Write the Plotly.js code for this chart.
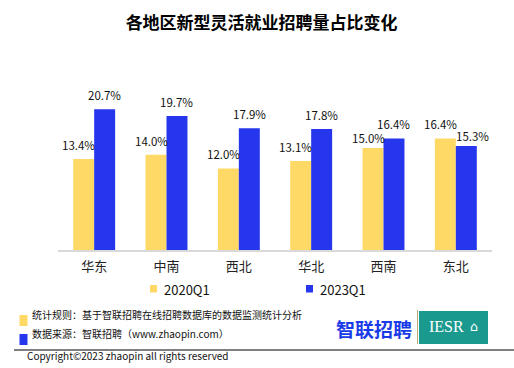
<!DOCTYPE html>
<html>
<head>
<meta charset="utf-8">
<script src="https://cdn.plot.ly/plotly-3.0.1.min.js"></script>
<style>html,body{margin:0;padding:0;background:#fff;}#chart{width:514px;height:368px;}</style>
</head>
<body>
<div id="chart"></div>
<script>
const regions = ['华东', '中南', '西北', '华北', '西南', '东北'];
const series2020 = [13.4, 14.0, 12.0, 13.1, 15.0, 16.4];
const series2023 = [20.7, 19.7, 17.9, 17.8, 16.4, 15.3];
const seriesNames = ['2020Q1', '2023Q1'];
const colors = ['#FFD966', '#2536EC'];

const W = 514, H = 368;
const M = {l: 58, r: 22, t: 70, b: 118};
const pw = W - M.l - M.r, ph = H - M.t - M.b;
const px = x => (x - M.l) / pw;
const py = y => (H - M.b - y) / ph;
const FONT = '"Noto Sans CJK SC", "Noto Sans", sans-serif';

const traces = [series2020, series2023].map((vals, k) => ({
  type: 'bar', name: seriesNames[k], x: regions, y: vals,
  marker: {color: colors[k]}, hoverinfo: 'skip', showlegend: false
}));

const annotations = [];
const half = 0.145;
const allSeries = [series2020, series2023];
allSeries.forEach((vals, k) => {
  vals.forEach((v, i) => {
    const other = allSeries[1 - k][i];
    const crowded = Math.abs(v - other) < 2 && v < other;
    annotations.push({
      x: i + (k === 0 ? -half : half), y: v, xref: 'x', yref: 'y',
      text: v.toFixed(1) + '%', showarrow: false, yanchor: 'middle',
      yshift: crowded ? 10 : 14,
      xshift: k === 0 ? -5 : (crowded ? 6 : 0),
      font: {family: FONT, size: 11.5, color: '#111'}
    });
  });
});

// custom legend
const legendX = [150, 306];
const shapes = [];
seriesNames.forEach((n, k) => {
  shapes.push({type: 'rect', xref: 'paper', yref: 'paper',
    x0: px(legendX[k]), x1: px(legendX[k] + 7), y0: py(292.5), y1: py(285),
    fillcolor: colors[k], line: {width: 0}});
  annotations.push({xref: 'paper', yref: 'paper', x: px(legendX[k] + 12), y: py(289),
    xanchor: 'left', yanchor: 'middle', showarrow: false, text: n,
    font: {family: FONT, size: 13, color: '#111'}});
});

// footer
const notes = ['统计规则：基于智联招聘在线招聘数据库的数据监测统计分析', '数据来源：智联招聘（www.zhaopin.com）'];
const noteY = [314, 333];
notes.forEach((t, k) => {
  shapes.push({type: 'rect', xref: 'paper', yref: 'paper',
    x0: px(19.5), x1: px(27.5), y0: py(noteY[k] + 12), y1: py(noteY[k] + 1),
    fillcolor: colors[k], line: {width: 0}});
  annotations.push({xref: 'paper', yref: 'paper', x: px(30), y: py(noteY[k]),
    xanchor: 'left', yanchor: 'middle', showarrow: false, text: t,
    font: {family: FONT, size: 10, color: '#111'}});
});
shapes.push({type: 'line', xref: 'paper', yref: 'paper', x0: px(14), x1: px(514), y0: py(350), y1: py(350),
  line: {color: '#000', width: 1}});
annotations.push({xref: 'paper', yref: 'paper', x: px(25), y: py(355),
  xanchor: 'left', yanchor: 'middle', showarrow: false, text: 'Copyright©2023 zhaopin all rights reserved',
  font: {family: FONT, size: 10, color: '#111'}});

// logos
annotations.push({xref: 'paper', yref: 'paper', x: px(374), y: py(328),
  xanchor: 'center', yanchor: 'middle', showarrow: false, text: '<b>智联招聘</b>',
  font: {family: FONT, size: 19, color: '#1a3be6'}});
shapes.push({type: 'line', xref: 'paper', yref: 'paper', x0: px(417.5), x1: px(417.5), y0: py(344), y1: py(310),
  line: {color: '#b9a77a', width: 1}});
shapes.push({type: 'rect', xref: 'paper', yref: 'paper', x0: px(419), x1: px(488), y0: py(344), y1: py(311),
  fillcolor: '#1A9A8F', line: {width: 0}});
annotations.push({xref: 'paper', yref: 'paper', x: px(446), y: py(326),
  xanchor: 'center', yanchor: 'middle', showarrow: false, text: 'IESR',
  font: {family: '"Liberation Serif", serif', size: 16, color: '#ffffff'}});
annotations.push({xref: 'paper', yref: 'paper', x: px(474), y: py(326),
  xanchor: 'center', yanchor: 'middle', showarrow: false, text: '⌂',
  font: {family: '"DejaVu Sans", sans-serif', size: 13, color: '#ffffff'}});

const layout = {
  width: W, height: H,
  margin: M,
  paper_bgcolor: '#fff', plot_bgcolor: '#fff',
  title: {text: '<b>各地区新型灵活就业招聘量占比变化</b>', x: 0.509, xref: 'container', xanchor: 'center',
    y: 1 - 23 / H, yref: 'container', yanchor: 'middle',
    font: {family: FONT, size: 17, color: '#000'}},
  barmode: 'group', bargap: 0.42, bargroupgap: 0,
  xaxis: {type: 'category', showline: true, linecolor: '#d9d9d9', linewidth: 1.5,
    ticks: '', showgrid: false, zeroline: false,
    tickfont: {family: FONT, size: 13, color: '#222'}, ticklabelstandoff: 4},
  yaxis: {range: [0, ph / 6.8], visible: false, showgrid: false, zeroline: false},
  showlegend: false,
  annotations: annotations, shapes: shapes
};

Plotly.newPlot('chart', traces, layout, {displayModeBar: false, staticPlot: true});
</script>
</body>
</html>
